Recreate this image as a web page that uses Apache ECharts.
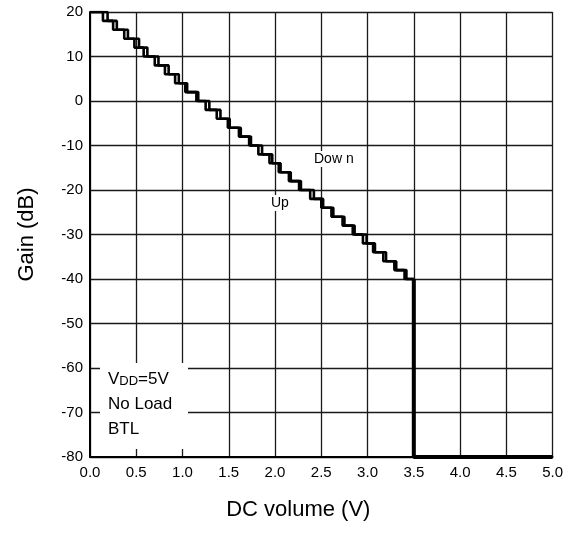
<!DOCTYPE html>
<html>
<head>
<meta charset="utf-8">
<script src="https://cdn.jsdelivr.net/npm/echarts@6/dist/echarts.min.js"></script>
<style>
  html, body { margin: 0; padding: 0; background: #fff; }
  #Chart { width: 566px; height: 533px; }
</style>
</head>
<body>
<div id="Chart"></div>
<script>
// 阶梯点 (V) 和对应的增益 (dB)
const stepGain = [18, 16, 14, 12, 10, 8, 6, 4, 2, 0, -2, -4, -6, -8, -10, -12, -14, -16, -18, -20,
  -22, -24, -26, -28, -30, -32, -34, -36, -38, -40]
const downV = [0.14, 0.25, 0.37, 0.48, 0.58, 0.70, 0.81, 0.92, 1.03, 1.15, 1.25, 1.37, 1.49, 1.61, 1.72,
  1.82, 1.94, 2.04, 2.15, 2.26, 2.38, 2.50, 2.61, 2.73, 2.84, 2.95, 3.06, 3.17, 3.29, 3.40]
const upV = [0.19, 0.29, 0.41, 0.53, 0.62, 0.74, 0.85, 0.96, 1.05, 1.17, 1.29, 1.41, 1.51, 1.63, 1.74,
  1.86, 1.97, 2.06, 2.17, 2.28, 2.42, 2.52, 2.63, 2.75, 2.86, 2.99, 3.08, 3.20, 3.31, 3.42]
const startPoint = [0, 20]
const tailV = [3.5, 3.5, 5.0]
const tailGain = [-40, -80, -80]

const font = "\"Liberation Sans\", Arial, sans-serif"

const stairs = (vs) => {
  let pts = [startPoint]
  let prev = startPoint[1]
  vs.forEach((v, i) => {
    pts.push([v, prev])
    pts.push([v, stepGain[i]])
    prev = stepGain[i]
  })
  pts.push([tailV[0], prev])
  return pts
}

const chart = echarts.init(document.getElementById("Chart"), null, { renderer: "canvas" })

let option = {
  animation: false,
  textStyle: { fontFamily: font, color: "#000" },
  grid: { left: 90, right: 9, top: 12, bottom: 76 },
  xAxis: {
    type: "value",
    min: 0,
    max: 5,
    interval: 0.5,
    name: "DC volume (V)",
    nameLocation: "middle",
    nameGap: 42,
    nameTextStyle: { fontSize: 22, color: "#000", fontFamily: font, padding: [0, 46, 0, 0] },
    axisLine: { show: true, onZero: false, lineStyle: { color: "#000", width: 2 } },
    axisTick: { show: false },
    axisLabel: { fontSize: 15, color: "#000", margin: 8, formatter: v => v.toFixed(1) },
    splitLine: { show: true, lineStyle: { color: "#1a1a1a", width: 1.3 } }
  },
  yAxis: {
    type: "value",
    min: -80,
    max: 20,
    interval: 10,
    name: "Gain (dB)",
    nameLocation: "middle",
    nameGap: 52,
    nameTextStyle: { fontSize: 22, color: "#000", fontFamily: font },
    axisLine: { show: true, onZero: false, lineStyle: { color: "#000", width: 2 } },
    axisTick: { show: false },
    axisLabel: { fontSize: 15, color: "#000", margin: 7 },
    splitLine: { show: true, lineStyle: { color: "#1a1a1a", width: 1.3 } }
  },
  series: [
    {
      name: "Down",
      type: "line",
      showSymbol: false,
      lineStyle: { color: "#000", width: 2.6 },
      data: stairs(downV)
    },
    {
      name: "Up",
      type: "line",
      showSymbol: false,
      lineStyle: { color: "#000", width: 2.6 },
      data: stairs(upV)
    },
    {
      name: "tail",
      type: "line",
      showSymbol: false,
      lineStyle: { color: "#000", width: 4 },
      data: tailV.map((v, i) => [v, tailGain[i]])
    }
  ],
  graphic: [
    // 条件框
    {
      type: "rect",
      left: 100, top: 363,
      shape: { width: 88, height: 86 },
      style: { fill: "#fff" },
      z: 10
    },
    {
      type: "text",
      left: 108, top: 371,
      style: {
        text: "{a|V}{b|DD}{a|=5V}",
        rich: {
          a: { fontSize: 17, fontFamily: font, fill: "#000" },
          b: { fontSize: 13, fontFamily: font, fill: "#000", verticalAlign: "bottom" }
        }
      },
      z: 11
    },
    {
      type: "text",
      left: 108, top: 396,
      style: { text: "No Load", fontSize: 17, fontFamily: font, fill: "#000" },
      z: 11
    },
    {
      type: "text",
      left: 108, top: 421,
      style: { text: "BTL", fontSize: 17, fontFamily: font, fill: "#000" },
      z: 11
    },
    // 曲线标注
    {
      type: "text",
      left: 313, top: 151,
      style: {
        text: "Dow n", fontSize: 14, fontFamily: font, fill: "#000",
        backgroundColor: "#fff", padding: [1, 1]
      },
      z: 11
    },
    {
      type: "text",
      left: 270, top: 195,
      style: {
        text: "Up", fontSize: 14, fontFamily: font, fill: "#000",
        backgroundColor: "#fff", padding: [1, 1]
      },
      z: 11
    }
  ]
}

chart.setOption(option)
</script>
</body>
</html>
